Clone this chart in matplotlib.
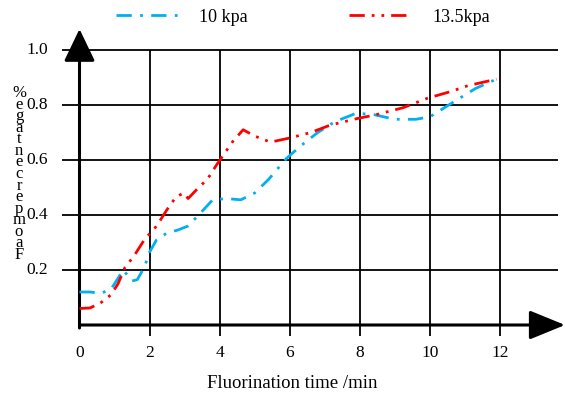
import matplotlib
matplotlib.use("Agg")
import matplotlib.pyplot as plt

plt.rcParams['font.family'] = ['Liberation Serif', 'DejaVu Serif']
plt.rcParams['lines.scale_dashes'] = False

# ---- data ----
x_10 = [0, 0.3, 0.6, 0.9, 1.25, 1.5, 1.65, 1.85, 2.0, 2.2, 2.5, 2.8, 3.1, 3.4, 3.8, 4.2, 4.6,
        5.0, 5.4, 5.9, 6.3, 6.8, 7.3, 7.9, 8.4, 9.0, 9.6, 10.0, 10.6, 11.3, 11.9]
y_10 = [0.12, 0.12, 0.115, 0.13, 0.20, 0.16, 0.165, 0.21, 0.265, 0.31, 0.335, 0.345, 0.36, 0.40,
        0.455, 0.46, 0.455, 0.48, 0.53, 0.605, 0.65, 0.70, 0.74, 0.77, 0.765, 0.748, 0.748,
        0.757, 0.805, 0.86, 0.894]

x_135 = [0, 0.3, 0.6, 0.9, 1.1, 1.3, 1.55, 1.85, 2.2, 2.5, 2.75, 2.97, 3.1, 3.4, 3.65, 3.9, 4.36,
         4.67, 5.0, 5.45, 6.0, 6.6, 7.16, 7.9, 8.44, 9.23, 9.94, 10.57, 11.08, 11.9]
y_135 = [0.06, 0.062, 0.08, 0.11, 0.15, 0.21, 0.25, 0.31, 0.36, 0.42, 0.465, 0.48, 0.46, 0.50,
         0.53, 0.58, 0.665, 0.71, 0.687, 0.665, 0.68, 0.70, 0.727, 0.75, 0.764, 0.79, 0.825,
         0.848, 0.87, 0.894]

x_ticks = [0, 2, 4, 6, 8, 10, 12]
y_ticks = [0.2, 0.4, 0.6, 0.8, 1.0]
y_tick_labels = ['0.2', '0.4', '0.6', '0.8', '1.0']
series_labels = ['10 kpa', '13.5kpa']
x_label = 'Fluorination time /min'
y_label_chars = ['%', 'e', 'g', 'a', 't', 'n', 'e', 'c', 'r', 'e', 'p', 'm', 'o', 'a', 'F']

# ---- figure ----
W, H = 565, 397
fig = plt.figure(figsize=(W / 100, H / 100), dpi=100)
ax = fig.add_axes([0, 0, 1, 1])
px_per_x = 35.04
x0_px, y0_px, px_per_y = 79.5, 325.0, 275.0
ax.set_xlim(-x0_px / px_per_x, (W - x0_px) / px_per_x)
ax.set_ylim((y0_px - H) / px_per_y, y0_px / px_per_y)
ax.axis('off')

def px2x(p):
    return (p - x0_px) / px_per_x

def px2y(p):
    return (y0_px - p) / px_per_y

# grid
ax.hlines(y_ticks, px2x(62), px2x(558), color='black', lw=1.3, zorder=1)
ax.vlines(x_ticks[1:], px2y(336), 1.0, color='black', lw=1.3, zorder=1)

# axes arrows
ax.annotate('', xy=(px2x(565), 0), xytext=(0, 0),
            arrowprops=dict(arrowstyle='-|>,head_length=1.1,head_width=0.45', lw=2.2,
                            color='black', shrinkA=0, shrinkB=0, mutation_scale=20), zorder=3)
ax.annotate('', xy=(0, px2y(29)), xytext=(0, px2y(328)),
            arrowprops=dict(arrowstyle='-|>,head_length=1.0,head_width=0.48', lw=2.2,
                            color='black', shrinkA=0, shrinkB=0, mutation_scale=20), zorder=3)

# data lines
l1, = ax.plot(x_10, y_10, color='#00B0F0', lw=2.0, linestyle=(0, (11, 6, 2, 6)),
              label=series_labels[0], zorder=4)
l2, = ax.plot(x_135, y_135, color='#FF0000', lw=2.0, linestyle=(0, (11, 5, 2, 5, 2, 5)),
              label=series_labels[1], zorder=4)

# tick labels
for xv in x_ticks:
    ax.text(xv, px2y(353), str(xv), ha='center', va='center', fontsize=12.5)
for yv, lab in zip(y_ticks, y_tick_labels):
    ax.text(px2x(48), yv, lab, ha='right', va='center', fontsize=12.5)

# axis labels
ax.text(px2x(292), px2y(383), x_label, ha='center', va='center', fontsize=13.5)
ax.text(px2x(19), px2y(174), '\n'.join(y_label_chars), ha='center', va='center',
        fontsize=12, linespacing=0.63, multialignment='center')

# legend
fig.legend(handles=[l1, l2], loc='center', bbox_to_anchor=(303 / W, 1 - 17 / H), ncol=2,
           frameon=False, fontsize=13, handlelength=3.4, handletextpad=1.2,
           columnspacing=5.6)

fig.savefig('out.png', dpi=100)
